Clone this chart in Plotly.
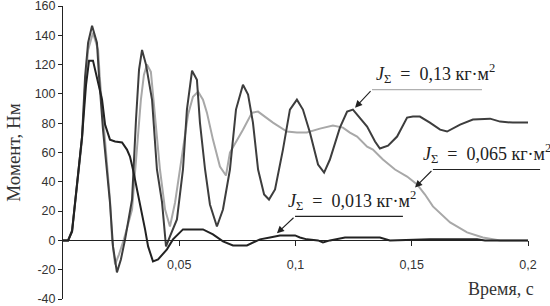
import plotly.graph_objects as go

# ---- data ----
t_013 = [0, 0.0022, 0.0039, 0.0052, 0.0065, 0.0082, 0.0095, 0.0108, 0.0125, 0.0146, 0.0155, 0.0172,
         0.0202, 0.0215, 0.0232, 0.0249, 0.0267, 0.0297, 0.0314, 0.0327, 0.0340, 0.0357, 0.0383,
         0.0404, 0.0426, 0.0443, 0.0460, 0.0490, 0.0516, 0.0533, 0.0555, 0.0576, 0.0589, 0.0611,
         0.0632, 0.0662, 0.0688, 0.0718, 0.0744, 0.0774, 0.0796, 0.0817, 0.0839, 0.0865, 0.0886,
         0.0912, 0.0946, 0.0976, 0.1006, 0.1032, 0.1062, 0.1097, 0.1123, 0.1148, 0.1191, 0.1222,
         0.1247, 0.1277, 0.1308, 0.1342, 0.1363, 0.1398, 0.1437, 0.1480, 0.1505, 0.1535, 0.1578,
         0.1622, 0.1652, 0.1708, 0.1763, 0.1837, 0.1880, 0.1935, 0.2]
m_013 = [0, 0, 6.8, 25.9, 48.4, 70.9, 111.8, 134.9, 146.5, 134.9, 111.8, 75.6,
         25.9, -4.1, -21.8, -13, 0.7, 27.9, 82.5, 116.5, 130, 120, 96,
         48.4, 25.9, -4.1, 2.7, 14.3, 48.4, 89.3, 115.8, 109.7, 80.4, 48.4,
         24.5, 9.5, 21.1, 48.4, 89.3, 106.3, 99.5, 80.4, 48.4, 31.3, 27.9,
         34.8, 62, 89.3, 96.1, 89.3, 73.6, 51.8, 46.3, 55.2, 77, 87.9,
         89.3, 83.8, 77.7, 67.5, 62.7, 64.7, 70.9, 83.8, 84.5, 84.5, 80.4,
         75.6, 74.3, 79, 82.5, 83.1, 81.1, 80.4, 80.4]

t_065 = [0, 0.0022, 0.0039, 0.0052, 0.0065, 0.0082, 0.0095, 0.0108, 0.0129, 0.0151, 0.0159, 0.0176,
         0.0202, 0.0211, 0.0224, 0.0241, 0.0262, 0.0297, 0.0318, 0.0335, 0.0348, 0.0361, 0.0378,
         0.0396, 0.0417, 0.0439, 0.0460, 0.0482, 0.0512, 0.0538, 0.0559, 0.0581, 0.0602, 0.0619,
         0.0645, 0.0675, 0.0701, 0.0718, 0.0774, 0.0813, 0.0839, 0.0869, 0.0903, 0.0963, 0.1006,
         0.1049, 0.1105, 0.1161, 0.1204, 0.1234, 0.1265, 0.1308, 0.1333, 0.1376, 0.1428, 0.1480,
         0.1523, 0.1557, 0.1591, 0.1665, 0.1738, 0.1806, 0.1880, 0.2]
m_065 = [0, 0, 6, 24.5, 47, 68.8, 106, 130, 141.7, 130, 109.7, 75.6,
         27.9, 0.7, -16.4, -9.5, 0.7, 21, 62, 96, 113, 120, 115,
         82.5, 48.4, 21, 9.5, 25.9, 60, 86, 98, 101.5, 96, 87.2,
         68.8, 50.4, 44.3, 60, 75.6, 87.2, 87.9, 84.5, 80.4, 74.3, 73.6,
         73.6, 76.3, 78.4, 77, 73.6, 70.9, 64, 62, 55.2, 48.4, 43.6,
         38.2, 31.3, 23.2, 12.3, 5.5, 2, 0, 0]

t_0013 = [0, 0.0022, 0.0039, 0.0052, 0.0065, 0.0082, 0.0099, 0.0112, 0.0129, 0.0146, 0.0168, 0.0181,
          0.0189, 0.0202, 0.0224, 0.0254, 0.0275, 0.0288, 0.0301, 0.0331, 0.0353, 0.0366, 0.0387,
          0.0409, 0.0447, 0.0473, 0.0516, 0.0602, 0.0645, 0.0688, 0.0731, 0.0791, 0.0817, 0.0847,
          0.0890, 0.0933, 0.0998, 0.1019, 0.1049, 0.1097, 0.1118, 0.1148, 0.1213, 0.1363, 0.1406,
          0.1578, 0.1781, 0.1815, 0.2]
m_0013 = [0, 0, 6, 25.9, 48.4, 70.9, 106, 122.7, 122.7, 111.8, 96, 79,
          75.6, 68.8, 67.5, 66.8, 62, 57.2, 48.4, 25.9, 7.5, -4.1, -14.3,
          -13, -6.1, 0.7, 7.5, 7.5, 4.1, -0.7, -3.4, -3.4, -1.4, 0.7,
          2, 3.4, 3.4, 2, 0.7, 0, -1.4, 0, 2, 2, 0,
          0.7, 0.7, 0, 0]

y_ticks = [-40, -20, 0, 20, 40, 60, 80, 100, 120, 140, 160]
y_ticktext = [str(v) for v in y_ticks]
x_ticks = [0.05, 0.1, 0.15, 0.2]
x_ticktext = ["0,05", "0,1", "0,15", "0,2"]

X_RANGE = [0, 0.2]
Y_RANGE = [-40, 160]


def px_(x):
    return (x - X_RANGE[0]) / (X_RANGE[1] - X_RANGE[0])


def py_(y):
    return (y - Y_RANGE[0]) / (Y_RANGE[1] - Y_RANGE[0])


fig = go.Figure()
fig.add_trace(go.Scatter(x=t_065, y=m_065, mode="lines",
                         line=dict(color="#a8a8a8", width=2), name="0,065"))
fig.add_trace(go.Scatter(x=t_013, y=m_013, mode="lines",
                         line=dict(color="#3d3d3d", width=2), name="0,13"))
fig.add_trace(go.Scatter(x=t_0013, y=m_0013, mode="lines",
                         line=dict(color="#222222", width=2), name="0,013"))

serif = "Liberation Serif, Times New Roman, serif"
ann_font = dict(family=serif, size=18, color="#222")

labels = [
    # text, text-left x, tail(x,y), tip(x,y), underline end x, underline colour
    ("<i>J</i><sub>Σ</sub>  =  0,13 кг·м<sup>2</sup>", 0.1337, (0.1329, 102.9), (0.1256, 90.6), 0.1802, "#b0b0b0"),
    ("<i>J</i><sub>Σ</sub>  =  0,065 кг·м<sup>2</sup>", 0.1540, (0.1591, 48.4), (0.1514, 36.1), 0.2052, "#222"),
    ("<i>J</i><sub>Σ</sub>  =  0,013 кг·м<sup>2</sup>", 0.0960, (0.0998, 16.4), (0.0920, 4.8), 0.1462, "#222"),
]

annotations = []
shapes = []
for text, tx, tail, tip, ux, ucol in labels:
    annotations.append(dict(text=text, xref="paper", yref="paper", x=px_(tx), y=py_(tail[1]) + 0.005,
                            xanchor="left", yanchor="bottom", showarrow=False, font=ann_font))
    shapes.append(dict(type="line", xref="paper", yref="paper", x0=px_(tail[0]), y0=py_(tail[1]),
                       x1=px_(ux), y1=py_(tail[1]), line=dict(color=ucol, width=1.2)))
    annotations.append(dict(text="", x=tip[0], y=tip[1], xref="x", yref="y",
                            ax=tail[0], ay=tail[1], axref="x", ayref="y",
                            showarrow=True, arrowhead=2, arrowsize=1.3, arrowwidth=1.1,
                            arrowcolor="#222", standoff=0, startstandoff=0))

annotations.append(dict(text="Время, с", xref="paper", yref="paper", x=px_(0.2034), y=py_(-33.5),
                        xanchor="right", yanchor="middle", showarrow=False,
                        font=dict(family=serif, size=18, color="#333")))

tick_font = dict(family="Liberation Sans, Arial, sans-serif", size=12.5, color="#333")

fig.update_layout(
    width=550, height=306,
    margin=dict(l=63, r=22, t=6, b=7, autoexpand=False),
    paper_bgcolor="white", plot_bgcolor="white",
    showlegend=False,
    annotations=annotations,
    shapes=shapes,
    xaxis=dict(range=X_RANGE, anchor="free", position=py_(0), showgrid=False, zeroline=False,
               automargin=False,
               showline=True, linecolor="#222", linewidth=1,
               tickvals=x_ticks, ticktext=x_ticktext, ticks="outside", ticklen=5,
               tickcolor="#222", ticklabelstandoff=8, tickfont=tick_font),
    yaxis=dict(range=Y_RANGE, showgrid=False, zeroline=False, showline=True, automargin=False,
               linecolor="#222", linewidth=1, ticklabeloverflow="allow",
               tickvals=y_ticks, ticktext=y_ticktext, ticks="outside", ticklen=4, tickcolor="#222",
               tickfont=tick_font,
               title=dict(text="Момент, Нм", font=dict(family=serif, size=19, color="#333"), standoff=8)),
)

fig.write_html("out.html", config={"displayModeBar": False},
               post_script="document.body.style.margin='0px';")
